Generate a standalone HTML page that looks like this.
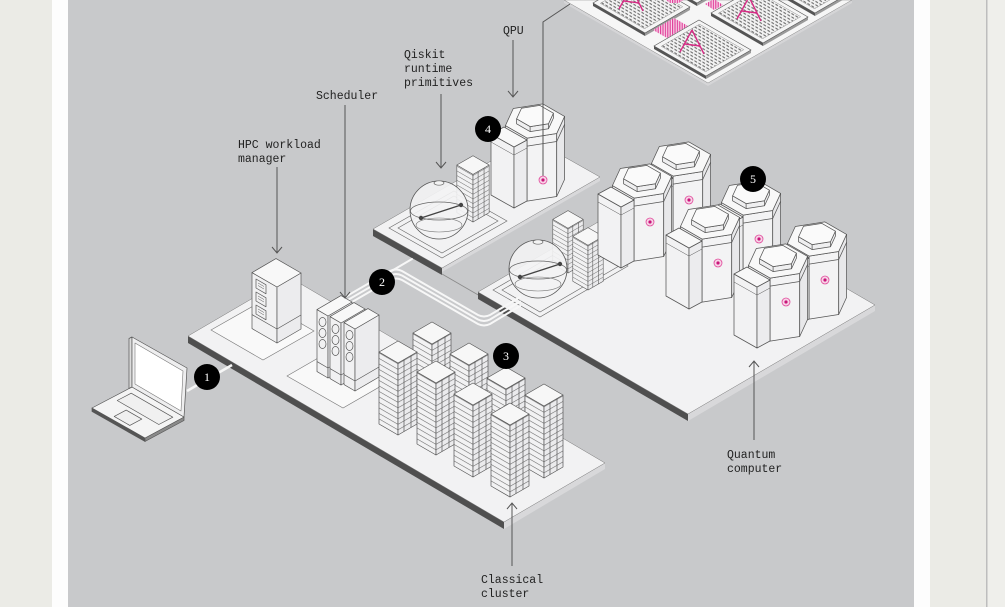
<!DOCTYPE html>
<html><head><meta charset="utf-8"><style>
html,body{margin:0;padding:0;width:1005px;height:607px;overflow:hidden;background:#ebebe6}
svg{display:block;position:absolute;left:0;top:0}
.lbl{font-family:"Liberation Mono",monospace;font-size:11.5px;fill:#222}
.bn{font-family:"Liberation Serif",serif;font-size:12px;fill:#fff;text-anchor:middle}
</style></head><body>
<svg width="1005" height="607" viewBox="0 0 1005 607" xmlns="http://www.w3.org/2000/svg">
<defs>
<pattern id="stL" width="10" height="5.5" patternUnits="userSpaceOnUse" patternTransform="skewY(30)"><rect width="10" height="5.5" fill="#f2f2f3"/><line x1="0" y1="0.3" x2="10" y2="0.3" stroke="#6a6a6a" stroke-width="0.7"/></pattern>
<pattern id="stR" width="10" height="5.5" patternUnits="userSpaceOnUse" patternTransform="skewY(-30)"><rect width="10" height="5.5" fill="#ebebed"/><line x1="0" y1="0.3" x2="10" y2="0.3" stroke="#6a6a6a" stroke-width="0.7"/></pattern>
<pattern id="grid" width="4" height="3.4" patternUnits="userSpaceOnUse" patternTransform="skewY(30)"><rect width="4" height="3.4" fill="#f3f3f3"/><rect x="0.4" y="1" width="2.6" height="1.3" fill="#6d6d6d"/></pattern>
<pattern id="pk" width="2.4" height="10" patternUnits="userSpaceOnUse"><rect width="2.4" height="10" fill="#f9d7ea"/><rect width="1.2" height="10" fill="#e0409a"/></pattern>

<g id="rackT" stroke="#555" stroke-width="0.7" stroke-linejoin="round">
 <polygon points="0,0 -19,-11 -19,-83 0,-72" fill="url(#stL)"/>
 <polygon points="0,0 19,-11 19,-83 0,-72" fill="url(#stR)"/>
 <polygon points="0,-72 -19,-83 0,-94 19,-83" fill="#f7f7f7"/>
 <line x1="6" y1="-75.5" x2="6" y2="-3.5"/>
 <line x1="13" y1="-79.5" x2="13" y2="-7.5"/>
</g>
<g id="rackM" stroke="#555" stroke-width="0.7" stroke-linejoin="round">
 <polygon points="0,0 -19,-11 -19,-67 0,-56" fill="url(#stL)"/>
 <polygon points="0,0 19,-11 19,-67 0,-56" fill="url(#stR)"/>
 <polygon points="0,-56 -19,-67 0,-78 19,-67" fill="#f7f7f7"/>
 <line x1="6" y1="-59.5" x2="6" y2="-3.5"/>
 <line x1="13" y1="-63.5" x2="13" y2="-7.5"/>
</g>
<g id="qb" stroke="#555" stroke-width="0.75" stroke-linejoin="round">
 <polygon points="-29.6,4.6 -7.9,17.1 -7.9,-45.9 -29.6,-58.4" fill="#f1f1f2"/>
 <polygon points="-7.9,17.1 21.7,12.5 21.7,-50.5 -7.9,-45.9" fill="#f3f3f4"/>
 <polygon points="21.7,12.5 29.6,-4.6 29.6,-67.6 21.7,-50.5" fill="#e8e8ea"/>
 <polygon points="21.7,-50.5 -7.9,-45.9 -29.6,-58.4 -21.7,-75.5 7.9,-80.1 29.6,-67.6" fill="#f8f8f8"/>
 <polyline points="-29.6,-50.4 -7.9,-37.9 21.7,-42.5 29.6,-59.6" fill="none"/>
 <polygon points="-18.4,-60.15 -4.9,-52.4 13.5,-55.25 18.4,-65.85 18.4,-70.85 13.5,-60.25 -4.9,-57.4 -18.4,-65.15" fill="#efeff0"/>
 <polygon points="13.5,-60.25 -4.9,-57.4 -18.4,-65.15 -13.5,-75.75 4.9,-78.6 18.4,-70.85" fill="#fafafa"/>
 <line x1="-4.9" y1="-52.4" x2="-4.9" y2="-57.4"/>
 <line x1="13.5" y1="-55.25" x2="13.5" y2="-60.25"/>
 <polygon points="-44,-50 -21,-37 -21,24 -44,11" fill="#f2f2f3"/>
 <polygon points="-21,-37 -8,-44 -8,17 -21,24" fill="#ececee"/>
 <polygon points="-44,-50 -21,-37 -8,-44 -31,-57" fill="#f8f8f8"/>
 <polyline points="-44,-42 -21,-29 -8,-36" fill="none" stroke-width="0.5"/>
</g>
<g id="pd"><circle r="4" fill="#f7d3e6" stroke="#e0479a" stroke-width="0.8"/><circle r="1.6" fill="#c8157a"/></g>
<g id="qu"><use href="#qb"/><use href="#pd" x="8" y="-22"/></g>
<g id="tw" stroke="#555" stroke-width="0.7" stroke-linejoin="round">
 <polygon points="0,0 -11,-6.4 -11,-68.4 0,-62" fill="#f1f1f2"/>
 <polygon points="0,0 24,-14 24,-76 0,-62" fill="#ececee"/>
 <polygon points="0,-62 -11,-68.4 13,-82.4 24,-76" fill="#f8f8f8"/>
 <polyline points="-11,-16.4 0,-10 24,-24" fill="none"/>
 <ellipse cx="-5.5" cy="-56" rx="3.5" ry="4.5" fill="none"/>
 <ellipse cx="-5.5" cy="-45" rx="3.5" ry="4.5" fill="none"/>
 <ellipse cx="-5.5" cy="-34" rx="3.5" ry="4.5" fill="none"/>
</g>
<g id="sph">
 <circle r="29" fill="#f3f3f4" fill-opacity="0.9" stroke="#555" stroke-width="0.8"/>
 <ellipse cx="0" cy="1" rx="28.5" ry="9" fill="none" stroke="#666" stroke-width="0.7"/>
 <ellipse cx="0" cy="15" rx="23" ry="7" fill="none" stroke="#777" stroke-width="0.6"/>
 <ellipse cx="0" cy="-27" rx="5" ry="2.2" fill="#f3f3f3" stroke="#666" stroke-width="0.7"/>
 <line x1="-18" y1="8" x2="22" y2="-5" stroke="#444" stroke-width="1.4"/>
 <circle cx="-18" cy="8" r="2.2" fill="#444"/><circle cx="22" cy="-5" r="2.2" fill="#444"/>
</g>
<g id="chip">
 <polygon points="0,0 -52,-30 -52,-27 0,3" fill="#555"/>
 <polygon points="0,0 45,-26 45,-23 0,3" fill="#9a9a9a"/>
 <polygon points="0,0 -52,-30 -7,-56 45,-26" fill="#f5f5f5" stroke="#555" stroke-width="0.6"/>
 <polygon points="-0.5,-4.2 -44.7,-29.7 -6.5,-51.8 37.7,-26.3" fill="url(#grid)" stroke="#777" stroke-width="0.4"/>
 <path d="M-14,-46 L-26,-24 M-14,-46 L-2,-22 M-21,-32 L-6,-30" stroke="#d82c86" stroke-width="1.4" fill="none"/>
</g>
</defs>

<!-- background -->
<rect width="1005" height="607" fill="#ebebe6"/>
<rect x="52" width="16" height="607" fill="#fdfdfd"/>
<rect x="68" width="846" height="607" fill="#c8c9cb"/>
<rect x="914" width="16" height="607" fill="#fdfdfd"/>
<rect x="986" width="1.5" height="607" fill="#bdbdbd"/>
<rect x="987.5" width="18" height="607" fill="#efefeb"/>

<!-- chip platform -->
<polygon points="564,0 708,83 852,0 852,3 708,86 564,3" fill="#d5d5d7"/>
<polygon points="564,0 708,83 852,0" fill="#f6f6f6" stroke="#888" stroke-width="0.5"/>
<use href="#chip" x="697" y="3"/>
<use href="#chip" x="750" y="-27"/>
<use href="#chip" x="815" y="13"/>
<use href="#chip" x="645" y="33"/>
<use href="#chip" x="763" y="43"/>
<use href="#chip" x="706" y="76"/>
<polygon points="653,30 674,18 688,26 667,38" fill="url(#pk)"/>
<polygon points="705,4 714,-1 723,5 714,10" fill="url(#pk)"/>
<polygon points="666,0 683,0 679,3 670,3" fill="url(#pk)"/>

<!-- upper-left platform -->
<polygon points="373,229 442,268 442,275 373,236" fill="#4f4f4f"/>
<polygon points="442,268 600,177 600,181 442,272" fill="#d8d8da"/>
<polygon points="373,229 442,268 600,177 531,138" fill="#f2f2f3" stroke="#777" stroke-width="0.5"/>
<polygon points="389,228 442,258 507,221 454,191" fill="none" stroke="#666" stroke-width="0.6"/>
<polygon points="398,228 442,253 498,221 454,196" fill="none" stroke="#666" stroke-width="0.6"/>
<use href="#rackM" transform="translate(473,222) scale(0.85)"/>
<use href="#sph" x="439" y="210"/>
<use href="#qb" x="535" y="184"/>
<line x1="442" y1="274" x2="480" y2="296" stroke="#8a8a8a" stroke-width="0.8"/>

<!-- quantum platform -->
<polygon points="478,292 688,414 688,421 478,299" fill="#4f4f4f"/>
<polygon points="688,414 875,305 875,311 688,421" fill="#d8d8da"/>
<polygon points="478,292 688,414 875,305 665,183" fill="#f2f2f3" stroke="#777" stroke-width="0.5"/>
<polygon points="493,290 540,317 628,266 581,239" fill="none" stroke="#666" stroke-width="0.6"/>
<polygon points="502,290 540,312 619,266 581,244" fill="none" stroke="#666" stroke-width="0.6"/>

<!-- classical platform -->
<polygon points="188,336 504,522 504,529 188,343" fill="#4f4f4f"/>
<polygon points="504,522 605,463 605,469 504,529" fill="#d8d8da"/>
<polygon points="188,336 504,522 605,463 289,277" fill="#f2f2f3" stroke="#777" stroke-width="0.5"/>
<polygon points="211,330 263,360 314,331 262,301" fill="#f9f9f9" stroke="#777" stroke-width="0.6"/>
<polygon points="287,376 343,408 395,378 339,346" fill="#f9f9f9" stroke="#777" stroke-width="0.6"/>

<!-- cables -->
<g fill="none" stroke="#f7f7f7" stroke-width="2" stroke-linecap="round" stroke-linejoin="round">
 <path d="M340,300 L390,271 Q396,268 402,271 L478,315 Q484,318 490,315 L520,297"/>
 <path d="M340,304.5 L390,275.5 Q396,272.5 402,275.5 L478,319.5 Q484,322.5 490,319.5 L520,301.5"/>
 <path d="M340,309 L390,280 Q396,277 402,280 L478,324 Q484,327 490,324 L520,306"/>
 <path d="M383,276 L412,259"/>
</g>

<!-- classical contents -->
<g transform="translate(277,343)" stroke="#555" stroke-width="0.7" stroke-linejoin="round">
 <polygon points="0,0 -25,-14.4 -25,-70.4 0,-56" fill="#f1f1f2"/>
 <polygon points="0,0 24,-14 24,-70 0,-56" fill="#ececee"/>
 <polygon points="0,-56 -25,-70.4 -1,-84.4 24,-70" fill="#f8f8f8"/>
 <polyline points="-25,-28.4 0,-14 24,-28" fill="none"/>
 <polygon points="-21,-64 -11,-58.2 -11,-49.2 -21,-55" fill="none"/>
 <polygon points="-21,-51 -11,-45.2 -11,-36.2 -21,-42" fill="none"/>
 <polygon points="-21,-38 -11,-32.2 -11,-23.2 -21,-29" fill="none"/>
 <path d="M-19,-60 l6,3.5 M-19,-57.5 l6,3.5 M-19,-47 l6,3.5 M-19,-44.5 l6,3.5 M-19,-34 l6,3.5 M-19,-31.5 l6,3.5" fill="none" stroke-width="0.5"/>
</g>
<use href="#tw" x="328" y="378"/>
<use href="#tw" x="341" y="385"/>
<use href="#tw" x="355" y="391"/>
<use href="#rackT" x="432" y="416"/>
<use href="#rackT" x="398" y="435"/>
<use href="#rackT" x="469" y="437"/>
<use href="#rackT" x="436" y="455"/>
<use href="#rackT" x="506" y="461"/>
<use href="#rackT" x="473" y="477"/>
<use href="#rackT" x="544" y="478"/>
<use href="#rackT" x="510" y="497"/>

<!-- quantum contents -->
<use href="#rackM" transform="translate(568,273) scale(0.8)"/>
<use href="#rackM" transform="translate(588,290) scale(0.8)"/>
<use href="#sph" x="538" y="269"/>
<use href="#qu" x="681" y="222"/>
<use href="#qu" x="642" y="244"/>
<use href="#qu" x="751" y="261"/>
<use href="#qu" x="710" y="285"/>
<use href="#qu" x="817" y="302"/>
<use href="#qu" x="778" y="324"/>

<!-- laptop -->
<line x1="187" y1="391" x2="232" y2="365" stroke="#f7f7f7" stroke-width="2.5"/>
<g stroke="#555" stroke-width="0.7" stroke-linejoin="round">
 <polygon points="92,408 145,438 145,441.5 92,411.5" fill="#555"/>
 <polygon points="145,438 184,417 184,420.5 145,441.5" fill="#8a8a8a"/>
 <polygon points="132,387 184,417 145,438 92,408" fill="#f4f4f4"/>
 <polygon points="131.2,393.2 172.8,417.2 158.8,424.5 117.2,400.5" fill="#f0f0f0"/>
 <polygon points="126.2,410.1 141.8,419.1 129.8,425.4 114.2,416.4" fill="#f0f0f0"/>
 <polygon points="129,338.5 132,337 132,387 129,388.5" fill="#dcdcdc"/>
 <polygon points="132,337 187,368 184,417 132,387" fill="#eeeeef"/>
 <polygon points="135,343 183,371 181,411 135,384" fill="#ffffff" stroke="#777" stroke-width="0.6"/>
</g>

<!-- annotation lines -->
<g fill="none" stroke="#555" stroke-width="1">
 <path d="M277,167 L277,253 M272,247 L277,253 L282,247"/>
 <path d="M345,105 L345,298 M340,292 L345,298 L350,292"/>
 <path d="M441,94 L441,168 M436,162 L441,168 L446,162"/>
 <path d="M513,40 L513,97 M508,91 L513,97 L518,91"/>
 <path d="M543,178 L543,22 L570,4"/>
 <path d="M512,566 L512,503 M507,509 L512,503 L517,509"/>
 <path d="M754,440 L754,361 M749,367 L754,361 L759,367"/>
</g>
<use href="#pd" x="543" y="180"/>

<!-- badges -->
<circle cx="207" cy="377" r="13" fill="#000"/><text class="bn" x="207" y="381">1</text>
<circle cx="382" cy="282" r="13" fill="#000"/><text class="bn" x="382" y="286">2</text>
<circle cx="506" cy="356" r="13" fill="#000"/><text class="bn" x="506" y="360">3</text>
<circle cx="488" cy="129" r="13" fill="#000"/><text class="bn" x="488" y="133">4</text>
<circle cx="753" cy="179" r="13" fill="#000"/><text class="bn" x="753" y="183">5</text>

<!-- labels -->
<text class="lbl" x="316" y="99">Scheduler</text>
<text class="lbl" x="238" y="148">HPC workload</text>
<text class="lbl" x="238" y="162">manager</text>
<text class="lbl" x="404" y="58">Qiskit</text>
<text class="lbl" x="404" y="72">runtime</text>
<text class="lbl" x="404" y="86">primitives</text>
<text class="lbl" x="503" y="34">QPU</text>
<text class="lbl" x="481" y="583">Classical</text>
<text class="lbl" x="481" y="597">cluster</text>
<text class="lbl" x="727" y="458">Quantum</text>
<text class="lbl" x="727" y="472">computer</text>
</svg>
</body></html>
